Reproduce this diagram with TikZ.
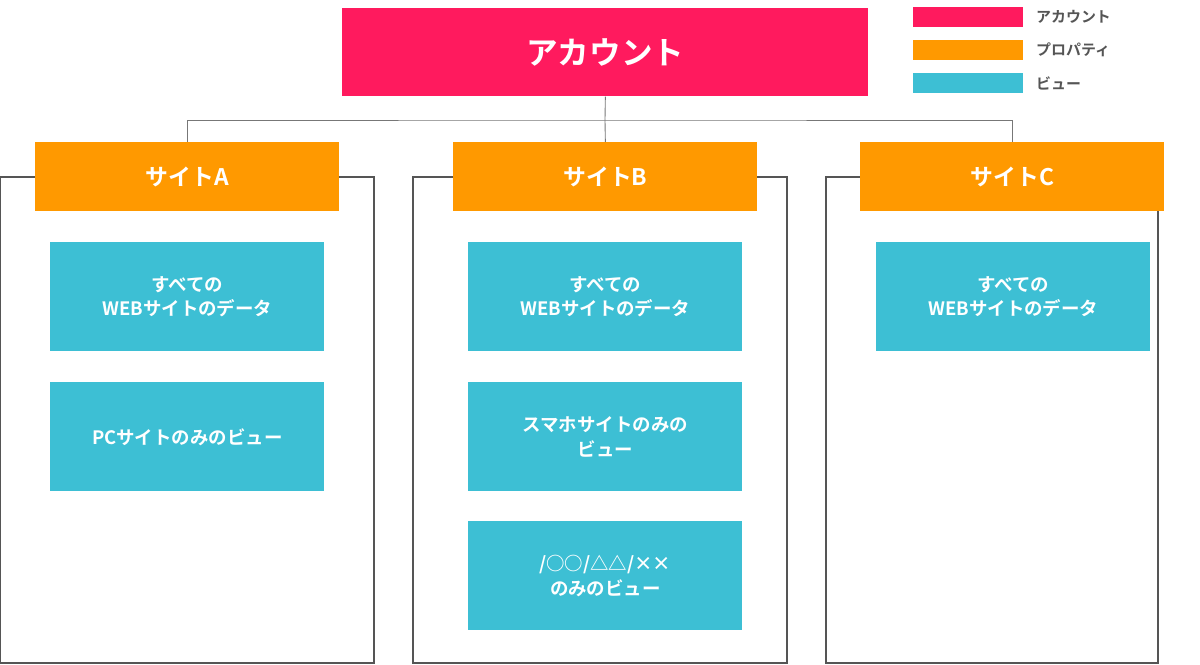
\documentclass[tikz,border=0pt]{standalone}
\usepackage{fontspec}
\setmainfont{Noto Sans CJK JP}[BoldFont={Noto Sans CJK JP Bold}]
\definecolor{pinkc}{HTML}{FF1A5E}
\definecolor{orangec}{HTML}{FF9900}
\definecolor{cyanc}{HTML}{3DBFD4}
\definecolor{linec}{HTML}{555555}
\begin{document}
\begin{tikzpicture}[x=0.02cm,y=-0.02cm,
  box/.style={draw=none,anchor=north west,inner sep=0,text=white,font=\bfseries,align=center},
  acc/.style={box,fill=pinkc,minimum width=526*0.02cm,minimum height=88*0.02cm,font=\bfseries\fontsize{18}{20}\selectfont},
  prop/.style={box,fill=orangec,minimum width=304*0.02cm,minimum height=69*0.02cm,font=\bfseries\fontsize{13}{15}\selectfont},
  view/.style={box,fill=cyanc,minimum width=274*0.02cm,minimum height=109*0.02cm,font=\bfseries\fontsize{10.5}{14}\selectfont},
  frame/.style={draw=linec,line width=0.7pt},
  conn/.style={draw=linec!80,line width=0.5pt},
  leg/.style={anchor=north west,inner sep=0,minimum width=110*0.02cm,minimum height=20*0.02cm},
  legt/.style={anchor=west,font=\bfseries\fontsize{8.5}{10}\selectfont,text=linec}]
\useasboundingbox (0,0) rectangle (1200,665);
% frames
\draw[frame] (0,177) rectangle (374,663);
\draw[frame] (413,177) rectangle (787,663);
\draw[frame] (826,177) rectangle (1158,663);
% account
\node[acc] (acc) at (342,8) {アカウント};
\node[prop] (pa) at (35,142) {サイトA};
\node[prop] (pb) at (453,142) {サイトB};
\node[prop] (pc) at (860,142) {サイトC};
\coordinate (j) at (605,120);
\draw[conn] (acc.south) -- (j);
\draw[conn] (pa.north) |- (j) -| (pc.north);
\draw[conn] (j) -- (pb.north);
% views
\node[view] (a1) at (50,242) {すべての\\WEBサイトのデータ};
\node[view] (a2) at (50,382) {PCサイトのみのビュー};
\node[view] (b1) at (468,242) {すべての\\WEBサイトのデータ};
\node[view] (b2) at (468,382) {スマホサイトのみの\\ビュー};
\node[view] (b3) at (468,521) {/○○/△△/××\\のみのビュー};
\node[view] (c1) at (876,242) {すべての\\WEBサイトのデータ};
% legend
\node[leg,fill=pinkc] (l1) at (913,7) {};
\node[leg,fill=orangec] (l2) at (913,40) {};
\node[leg,fill=cyanc] (l3) at (913,73) {};
\node[legt] (t1) at (1030,17) {アカウント};
\node[legt] (t2) at (1030,50) {プロパティ};
\node[legt] (t3) at (1030,83) {ビュー};
\end{tikzpicture}
\end{document}
